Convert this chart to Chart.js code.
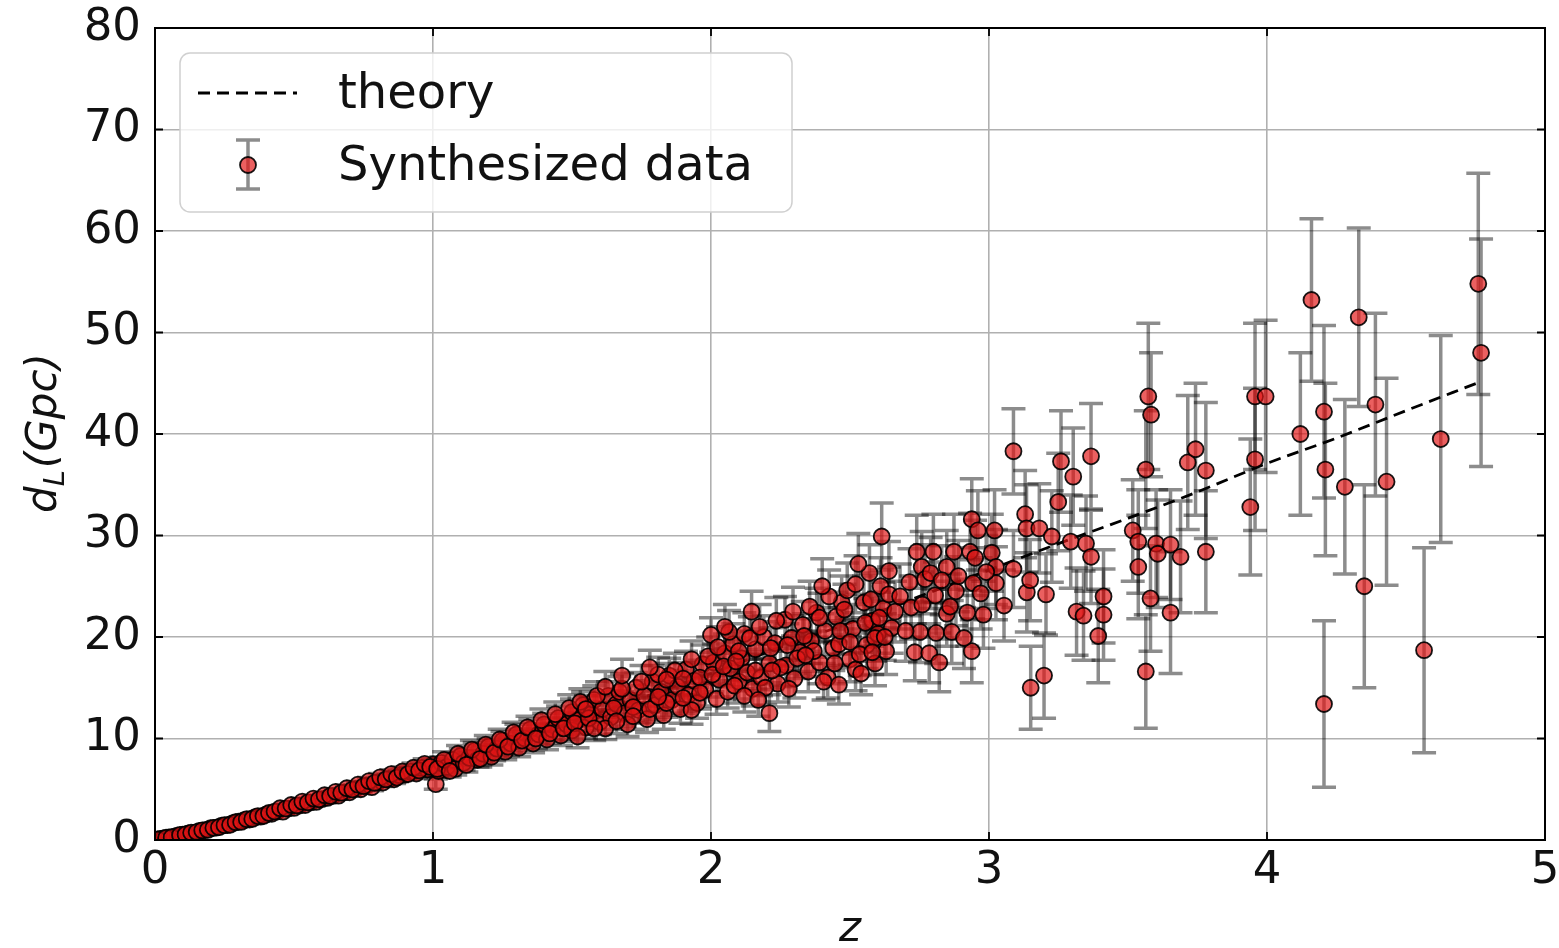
<!DOCTYPE html>
<html>
<head>
<meta charset="utf-8">
<script src="https://cdn.jsdelivr.net/npm/chart.js@4.4.1/dist/chart.umd.min.js"></script>
<style>
    html, body { margin: 0; padding: 0; background: #ffffff; }
</style>
</head>
<body>
<canvas id="dlChart" width="1559" height="948"></canvas>
<script>
// theory curve d_L(z)
const theoryZ  = [0, 0.25, 0.5, 0.75, 1, 1.25, 1.5, 1.75, 2, 2.25, 2.5, 2.75, 3, 3.25, 3.5, 3.75, 4, 4.25, 4.5, 4.754];
const theoryDL = [0, 1.36, 3.0, 4.95, 7.0, 9.2, 11.6, 14.0, 16.4, 19.0, 21.4, 24.0, 26.6, 29.2, 31.7, 34.3, 37.1, 39.6, 42.3, 45.0];

// synthesized data: redshift, distance (Gpc), 1-sigma error
const redshift = [
    0.02,0.03,0.05,0.07,0.08,0.10,0.12,0.14,0.16,0.18,
    0.20,0.22,0.24,0.26,0.28,0.30,0.32,0.34,0.36,0.38,
    0.40,0.42,0.44,0.46,0.48,0.50,0.52,0.54,0.56,0.58,
    0.60,0.62,0.64,0.66,0.68,0.70,0.72,0.74,0.76,0.78,
    0.80,0.82,0.84,0.86,0.88,0.90,0.92,0.94,0.96,0.98,
    1.00,1.01,
    1.02,1.03,1.05,1.07,1.08,1.10,1.11,1.13,1.15,1.16,
    1.18,1.20,1.21,1.23,1.25,1.26,1.28,1.30,1.31,1.33,
    1.35,1.36,1.38,1.40,1.41,1.43,1.45,1.46,1.48,1.50,
    1.50,1.52,1.54,1.55,1.57,1.58,1.60,1.61,1.63,1.64,
    1.66,1.67,1.69,1.70,1.71,1.73,1.74,1.76,1.77,1.79,
    1.80,1.82,1.83,1.85,1.86,1.88,1.89,1.91,1.92,1.94,
    1.95,1.97,1.98,
    2.00,2.01,2.02,2.03,2.05,2.06,2.07,2.08,2.10,2.11,
    2.12,2.13,2.146,2.15,2.16,2.18,2.19,2.21,2.21,2.23,
    2.24,2.266,2.27,2.29,2.30,2.32,2.33,2.35,2.36,2.38,
    2.39,2.41,2.42,2.44,2.45,2.46,2.47,2.49,2.50,2.51,
    2.52,2.54,2.55,2.56,2.57,2.58,2.59,2.60,2.61,2.614,
    2.62,2.63,2.64,2.65,
    2.662,2.714,2.733,2.74,2.752,2.758,2.77,2.785,2.80,2.806,
    2.81,2.821,2.848,2.848,2.866,2.874,2.881,2.922,2.932,2.938,
    2.938,2.943,2.96,2.97,3.01,3.02,3.025,3.025,3.054,3.088,
    3.088,
    3.13,3.135,3.136,3.148,3.15,3.181,3.198,3.205,3.226,3.249,
    3.259,3.294,3.303,3.315,3.34,3.349,3.367,3.367,3.393,3.412,
    3.412,
    3.517,3.537,3.537,3.564,3.564,3.573,3.581,3.583,3.601,3.607,
    3.653,3.653,3.689,3.715,3.743,3.78,3.78,3.94,3.957,3.957,
    3.995,4.12,4.16,4.205,4.21,4.205,4.28,4.33,4.35,4.39,
    4.43,4.565,4.625,4.76,4.77,
    // second pass over the dense part
    0.01,0.04,0.06,0.09,0.11,0.13,0.15,0.17,0.19,0.21,
    0.23,0.25,0.27,0.29,0.31,0.33,0.35,0.37,0.39,0.41,
    0.43,0.45,0.47,0.49,0.51,0.53,0.55,0.57,0.59,0.61,
    0.63,0.65,0.67,0.69,0.71,0.73,0.75,0.77,0.79,0.81,
    0.83,0.85,0.87,0.89,0.91,0.93,0.95,0.97,0.99,
    1.015,1.04,1.06,1.09,1.12,1.14,1.17,1.19,1.22,1.24,
    1.27,1.29,1.32,1.34,1.37,1.39,1.42,1.44,1.47,1.49,
    1.51,1.53,1.56,1.59,1.62,1.65,1.68,1.72,1.75,1.78,
    1.81,1.84,1.87,1.90,1.93,1.96,1.99,1.52,1.58,1.62,
    1.66,1.72,1.78,1.84,1.90,1.96,1.55,1.68,1.81,1.93,
    2.005,2.025,2.045,2.065,2.085,2.10,2.12,2.14,2.16,2.175,
    2.195,2.215,2.235,2.25,2.275,2.295,2.31,2.335,2.355,2.37,
    2.39,2.405,2.425,2.445,2.465,2.48,2.50,2.52,2.535,2.555,
    2.575,2.59,2.605,2.625,2.64,2.05,2.17,2.28,2.40,2.53,
    2.09,2.22,2.34,2.46,2.58,
    2.68,2.70,2.72,2.76,2.79,2.83,2.86,2.89,2.91,2.95,
    2.98,2.99
];
const lumDist = [
    0.10,0.15,0.26,0.33,0.44,0.52,0.66,0.70,0.90,0.98,
    1.16,1.22,1.42,1.47,1.67,1.80,1.95,2.02,2.24,2.30,
    2.52,2.58,2.81,2.79,3.10,3.16,3.40,3.45,3.71,3.76,
    4.02,4.15,4.35,4.37,4.69,4.70,5.02,5.00,5.36,5.20,
    5.68,5.66,6.02,5.98,6.38,6.45,6.74,6.55,7.10,6.95,
    7.45,5.50,
    6.8,7.6,7.2,7.9,7.0,8.3,7.6,8.1,8.8,7.9,
    8.5,9.2,8.2,9.0,9.8,8.7,9.5,10.4,9.1,10.0,
    10.9,9.5,10.4,11.4,9.9,10.9,12.0,10.3,11.4,12.6,
    10.8,11.8,13.3,11.1,12.4,13.8,11.6,12.9,14.2,12.1,
    13.4,14.6,12.5,11.4,13.8,15.0,12.8,14.2,11.9,15.6,
    13.3,14.6,12.3,16.2,13.8,15.1,12.9,16.8,14.3,15.7,
    13.5,17.3,14.8,
    20.2,17.5,13.9,15.8,18.4,14.6,16.9,19.3,15.6,17.9,
    20.3,16.5,22.5,14.9,18.8,16.0,20.0,12.5,17.4,19.4,
    15.4,21.7,17.2,19.9,15.9,18.5,21.2,16.6,19.6,22.4,
    17.5,20.6,16.0,18.9,22.0,19.3,23.4,24.6,17.8,20.8,
    16.8,16.4,23.4,19.2,26.3,21.6,17.4,20.3,25.0,29.9,
    22.8,18.6,24.2,20.9,
    22.5,25.4,18.5,28.4,20.5,26.9,25.7,18.4,28.4,24.1,
    20.4,17.5,26.9,22.3,20.5,28.4,24.5,22.4,28.4,31.6,
    18.6,25.3,30.5,24.3,28.3,30.5,26.9,25.3,23.1,26.7,
    38.3,
    32.1,30.7,24.4,25.6,15.0,30.7,16.2,24.2,29.9,33.3,
    37.3,29.4,35.8,22.5,22.1,29.2,37.8,27.9,20.1,24.0,
    22.2,
    30.5,29.4,26.9,36.5,16.6,43.7,23.8,41.9,29.2,28.2,
    29.1,22.4,27.9,37.2,38.5,36.4,28.4,32.8,43.7,37.5,
    43.7,40.0,53.2,42.2,36.5,13.4,34.8,51.5,25.0,42.9,
    35.3,18.7,39.5,54.8,48.0,
    // second pass over the dense part
    0.05,0.22,0.27,0.50,0.55,0.72,0.78,0.95,1.00,1.20,
    1.26,1.46,1.50,1.75,1.78,2.05,2.08,2.36,2.37,2.66,
    2.80,3.13,3.10,3.45,3.40,3.78,3.70,4.08,4.01,4.41,
    4.33,4.75,4.65,5.10,4.97,5.45,5.30,5.80,5.63,6.17,
    5.97,6.50,6.15,6.75,6.50,7.12,6.85,7.50,7.20,
    7.0,7.9,6.8,8.5,7.4,8.9,8.0,9.4,8.6,9.9,
    9.2,10.6,9.8,11.1,10.0,11.8,10.5,12.4,11.0,13.0,
    11.5,13.6,12.0,14.2,11.0,13.0,14.9,13.1,15.6,12.9,
    16.3,13.5,16.7,15.9,12.8,16.0,18.1,10.2,11.0,15.1,
    11.7,12.2,17.0,15.8,14.0,14.5,12.9,16.2,14.1,17.8,
    16.3,19.0,17.1,20.5,15.2,18.6,14.2,19.9,16.7,21.0,
    15.0,18.9,21.6,17.0,19.2,22.5,17.9,20.1,23.0,18.6,
    21.9,15.6,24.0,17.4,20.6,22.7,19.5,25.2,18.3,21.4,
    23.7,19.9,21.9,20.0,26.5,21.0,13.8,14.9,25.0,27.2,
    17.6,16.7,18.2,15.3,18.5,
    24.0,20.6,22.9,23.2,26.3,25.6,23.0,26.0,19.9,27.8,
    22.2,26.4
];
const lumDistErr = [
    0.01,0.01,0.02,0.02,0.02,0.03,0.03,0.04,0.04,0.05,
    0.06,0.06,0.07,0.07,0.08,0.09,0.10,0.10,0.11,0.12,
    0.13,0.14,0.15,0.16,0.17,0.18,0.19,0.20,0.21,0.22,
    0.24,0.25,0.26,0.27,0.29,0.30,0.31,0.33,0.34,0.36,
    0.37,0.39,0.40,0.42,0.44,0.45,0.47,0.49,0.51,0.53,
    0.55,0.50,
    0.6,0.6,0.6,0.7,0.6,0.7,0.7,0.7,0.8,0.7,
    0.8,0.8,0.8,0.8,0.9,0.8,0.9,1.0,0.9,0.9,
    1.0,0.9,1.0,1.1,1.0,1.1,1.2,1.0,1.1,1.3,
    1.1,1.2,1.3,1.1,1.2,1.4,1.2,1.3,1.4,1.2,
    1.3,1.5,1.3,1.2,1.4,1.5,1.3,1.5,1.3,1.6,
    1.4,1.5,1.4,1.7,1.5,1.6,1.4,1.8,1.6,1.7,
    1.5,1.9,1.6,
    1.7,1.8,1.5,1.7,1.9,1.6,1.8,2.0,1.7,1.9,
    2.1,1.8,2.0,1.7,2.0,1.8,2.1,1.8,1.9,2.1,
    1.8,2.3,2.0,2.2,1.9,2.1,2.3,2.0,2.2,2.4,
    2.1,2.3,2.0,2.2,2.4,2.3,2.6,2.7,2.2,2.4,
    2.1,2.1,2.6,2.3,2.8,2.5,2.2,2.4,2.8,3.3,
    2.6,2.3,2.7,2.5,
    3.0,3.3,2.8,3.6,3.0,3.5,3.4,2.9,3.7,3.3,
    3.0,2.9,3.6,3.2,3.1,3.7,3.4,3.3,3.8,4.0,
    3.1,3.5,3.9,3.5,3.8,4.0,3.7,3.6,3.5,3.8,
    4.2,
    4.3,4.3,3.9,4.0,4.1,4.4,4.2,4.0,4.5,4.8,
    5.0,4.6,4.8,4.3,4.4,4.7,5.2,4.6,4.6,4.6,
    4.5,
    5.0,5.1,5.1,5.8,5.6,7.2,5.2,6.1,5.3,5.3,
    5.4,6.0,5.5,6.6,6.5,6.7,6.0,6.7,7.2,7.0,
    7.5,8.0,8.0,8.5,8.5,8.2,8.6,8.8,10.0,9.0,
    10.2,10.1,10.2,10.9,11.2,
    // second pass over the dense part
    0.01,0.02,0.02,0.03,0.03,0.04,0.04,0.05,0.05,0.06,
    0.06,0.07,0.08,0.09,0.09,0.10,0.11,0.12,0.12,0.14,
    0.14,0.15,0.16,0.18,0.18,0.20,0.20,0.22,0.22,0.24,
    0.25,0.27,0.27,0.30,0.30,0.32,0.33,0.35,0.35,0.38,
    0.38,0.41,0.41,0.44,0.44,0.47,0.47,0.50,0.50,
    0.7,0.8,0.6,0.8,0.7,0.9,0.8,0.9,0.8,1.0,
    0.9,1.0,0.9,1.1,1.0,1.1,1.0,1.2,1.1,1.3,
    1.1,1.3,1.2,1.4,1.1,1.3,1.5,1.3,1.6,1.3,
    1.7,1.4,1.7,1.6,1.4,1.7,1.9,1.1,1.2,1.5,
    1.2,1.3,1.7,1.6,1.5,1.6,1.3,1.6,1.5,1.8,
    1.7,2.0,1.8,2.1,1.7,2.0,1.6,2.1,1.8,2.2,
    1.7,2.0,2.3,1.9,2.1,2.4,2.0,2.2,2.5,2.0,
    2.4,1.8,2.6,2.0,2.3,2.5,2.2,2.8,2.1,2.4,
    2.6,2.3,2.5,2.3,2.9,2.2,1.6,1.8,2.7,3.0,
    1.9,1.9,2.1,1.9,2.2,
    3.2,3.0,3.1,3.2,3.5,3.4,3.2,3.5,3.0,3.7,
    3.3,3.6
];

const seriesLabels = ['theory', 'Synthesized data'];

const FONT = "'DejaVu Sans', 'Liberation Sans', sans-serif";
const MARKER_FILL = 'rgba(225, 20, 20, 0.68)';
const MARKER_EDGE = 'rgba(0, 0, 0, 0.9)';
const BAR_COLOR = 'rgba(0, 0, 0, 0.45)';

// vertical error bars, drawn under the markers
const errorBarPlugin = {
    id: 'errorBars',
    beforeDatasetsDraw(chart) {
        const { ctx, chartArea } = chart;
        const xs = chart.scales.x, ys = chart.scales.y;
        ctx.save();
        ctx.beginPath();
        ctx.rect(chartArea.left, chartArea.top, chartArea.width, chartArea.height);
        ctx.clip();
        ctx.strokeStyle = BAR_COLOR;
        ctx.lineWidth = 3.5;
        redshift.forEach((z, i) => {
            const px = xs.getPixelForValue(z);
            const top = ys.getPixelForValue(lumDist[i] + lumDistErr[i]);
            const bot = ys.getPixelForValue(lumDist[i] - lumDistErr[i]);
            ctx.beginPath();
            ctx.moveTo(px, top); ctx.lineTo(px, bot);
            ctx.moveTo(px - 12, top); ctx.lineTo(px + 12, top);
            ctx.moveTo(px - 12, bot); ctx.lineTo(px + 12, bot);
            ctx.stroke();
        });
        ctx.restore();
    }
};

// frame, inward ticks, y title and legend box
const framePlugin = {
    id: 'frame',
    afterDraw(chart) {
        const { ctx, chartArea: a } = chart;
        const xs = chart.scales.x, ys = chart.scales.y;
        ctx.save();

        // inward ticks on all four sides
        ctx.strokeStyle = '#000';
        ctx.lineWidth = 1.8;
        xs.ticks.forEach(t => {
            const px = xs.getPixelForValue(t.value);
            ctx.beginPath();
            ctx.moveTo(px, a.bottom); ctx.lineTo(px, a.bottom - 8);
            ctx.moveTo(px, a.top); ctx.lineTo(px, a.top + 8);
            ctx.stroke();
        });
        ys.ticks.forEach(t => {
            const py = ys.getPixelForValue(t.value);
            ctx.beginPath();
            ctx.moveTo(a.left, py); ctx.lineTo(a.left + 8, py);
            ctx.moveTo(a.right, py); ctx.lineTo(a.right - 8, py);
            ctx.stroke();
        });

        // spines
        ctx.lineWidth = 2;
        ctx.strokeRect(a.left, a.top, a.right - a.left, a.bottom - a.top);

        // y axis title  d_L(Gpc)
        ctx.fillStyle = '#111';
        ctx.translate(56, (a.top + a.bottom) / 2);
        ctx.rotate(-Math.PI / 2);
        const big = "italic 42px " + FONT, small = "italic 29px " + FONT;
        ctx.font = big; const wd = ctx.measureText('d').width;
        const wp = ctx.measureText('(Gpc)').width;
        ctx.font = small; const wl = ctx.measureText('L').width;
        let x0 = -(wd + wl + wp) / 2;
        ctx.textBaseline = 'alphabetic';
        ctx.textAlign = 'left';
        ctx.font = big; ctx.fillText('d', x0, 0);
        ctx.font = small; ctx.fillText('L', x0 + wd, 8);
        ctx.font = big; ctx.fillText('(Gpc)', x0 + wd + wl + 2, 0);
        ctx.setTransform(1, 0, 0, 1, 0, 0);

        // legend
        const bx = 180, by = 53, bw = 612, bh = 159;
        ctx.beginPath();
        ctx.roundRect(bx, by, bw, bh, 10);
        ctx.fillStyle = 'rgba(255,255,255,0.8)';
        ctx.fill();
        ctx.strokeStyle = '#d0d0d0';
        ctx.lineWidth = 1.5;
        ctx.stroke();

        ctx.strokeStyle = '#000';
        ctx.lineWidth = 3;
        ctx.setLineDash([12, 7]);
        ctx.beginPath();
        ctx.moveTo(198, 93); ctx.lineTo(297, 93);
        ctx.stroke();
        ctx.setLineDash([]);

        ctx.strokeStyle = BAR_COLOR;
        ctx.lineWidth = 3.5;
        ctx.beginPath();
        ctx.moveTo(248, 140); ctx.lineTo(248, 189);
        ctx.moveTo(236, 140); ctx.lineTo(260, 140);
        ctx.moveTo(236, 189); ctx.lineTo(260, 189);
        ctx.stroke();
        ctx.beginPath();
        ctx.arc(248, 165, 8, 0, Math.PI * 2);
        ctx.fillStyle = MARKER_FILL;
        ctx.fill();
        ctx.strokeStyle = MARKER_EDGE;
        ctx.lineWidth = 1.8;
        ctx.stroke();

        ctx.fillStyle = '#111';
        ctx.font = "48px " + FONT;
        ctx.textBaseline = 'middle';
        ctx.fillText(seriesLabels[0], 338, 96);
        ctx.fillText(seriesLabels[1], 338, 168);
        ctx.restore();
    }
};

const ctx = document.getElementById('dlChart').getContext('2d');

const chart = new Chart(ctx, {
    type: 'scatter',
    data: {
        datasets: [
            {
                label: seriesLabels[1],
                data: redshift.map((z, i) => ({ x: z, y: lumDist[i] })),
                pointRadius: 8,
                pointHoverRadius: 8,
                pointBackgroundColor: MARKER_FILL,
                pointBorderColor: MARKER_EDGE,
                pointBorderWidth: 1.8,
                clip: 0,
                order: 0
            },
            {
                type: 'line',
                label: seriesLabels[0],
                data: theoryZ.map((z, i) => ({ x: z, y: theoryDL[i] })),
                borderColor: '#000',
                borderWidth: 2.8,
                borderDash: [12, 7],
                pointRadius: 0,
                fill: false,
                cubicInterpolationMode: 'monotone',
                clip: 0,
                order: 1
            }
        ]
    },
    options: {
        responsive: false,
        devicePixelRatio: 1,
        animation: false,
        layout: { padding: { left: 0, right: 14, top: 28, bottom: 0 } },
        plugins: {
            legend: { display: false },
            tooltip: { enabled: false }
        },
        scales: {
            x: {
                type: 'linear',
                min: 0,
                max: 5,
                ticks: {
                    stepSize: 1,
                    padding: 4,
                    color: '#111',
                    font: { family: FONT, size: 45 }
                },
                grid: { color: '#b0b0b0', lineWidth: 1.6, drawTicks: false },
                border: { display: true, color: '#000', width: 2 },
                title: {
                    display: true,
                    text: 'z',
                    color: '#111',
                    font: { family: FONT, size: 42, style: 'italic', lineHeight: 0.85 },
                    padding: 0
                },
                afterFit: (scale) => {
                    scale.height = 108;
                    scale.paddingLeft = 0;
                    scale.paddingRight = 0;
                }
            },
            y: {
                type: 'linear',
                min: 0,
                max: 80,
                ticks: {
                    stepSize: 10,
                    padding: 14,
                    color: '#111',
                    font: { family: FONT, size: 45 }
                },
                grid: { color: '#b0b0b0', lineWidth: 1.6, drawTicks: false },
                border: { display: true, color: '#000', width: 2 },
                afterFit: (scale) => {
                    scale.width = 155;
                    scale.paddingTop = 0;
                    scale.paddingBottom = 0;
                }
            }
        }
    },
    plugins: [errorBarPlugin, framePlugin]
});
</script>
</body>
</html>
